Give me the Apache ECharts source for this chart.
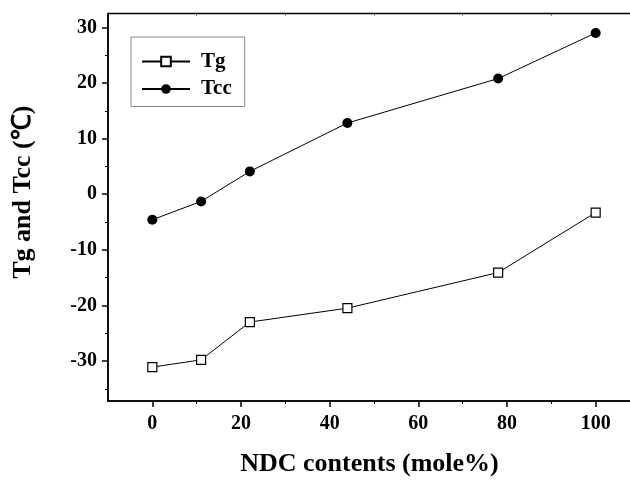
<!DOCTYPE html>
<html>
<head>
<meta charset="utf-8">
<script src="https://cdn.jsdelivr.net/npm/echarts@6/dist/echarts.min.js"></script>
<style>html,body{margin:0;padding:0;background:#fff;}#c{width:630px;height:482px;}</style>
</head>
<body>
<div id="c"></div>
<script>
const xValues = [0, 11, 22, 44, 78, 100];
const tg = [-31.1, -29.8, -23.0, -20.5, -14.1, -3.3];
const tcc = [-4.6, -1.3, 4.1, 12.8, 20.8, 29.0];
const xTicks = [0, 20, 40, 60, 80, 100];
const xMinorTicks = [10, 30, 50, 70, 90];
const yTicks = [-30, -20, -10, 0, 10, 20, 30];
const yMinorTicks = [-35, -25, -15, -5, 5, 15, 25];

const font = 'Liberation Serif, Times New Roman, serif';
const chart = echarts.init(document.getElementById('c'));
const pair = (xs, ys) => xs.map((x, i) => [x, ys[i]]);

const gridBox = { left: 108, top: 13.5, width: 532, height: 387.5 };
const xRange = { min: -10, max: 110 };
const yRange = { min: -37.2, max: 32.5 };

chart.setOption({
  animation: false,
  backgroundColor: '#fff',
  grid: Object.assign({ show: true, borderColor: '#000', borderWidth: 1.5, backgroundColor: 'transparent', outerBoundsMode: 'none', containLabel: false }, gridBox),
  legend: {
    left: 131, top: 37,
    orient: 'vertical',
    padding: [14, 13, 7, 10],
    itemGap: 6.5,
    itemWidth: 48, itemHeight: 12,
    borderColor: '#888', borderWidth: 1,
    textStyle: { fontFamily: font, fontWeight: 'bold', fontSize: 21, color: '#000', padding: [0, 0, 0, 6] },
    data: ['Tg', 'Tcc']
  },
  xAxis: [
    Object.assign({
      type: 'value', position: 'bottom',
      name: 'NDC contents (mole%)', nameLocation: 'middle', nameGap: 50,
      nameTextStyle: { fontFamily: font, fontWeight: 'bold', fontSize: 26, color: '#000', padding: [0, 9, 0, 0] },
      axisLine: { show: true, onZero: false, lineStyle: { color: '#000', width: 1.5 } },
      axisTick: { show: true, inside: false, length: 6, customValues: xTicks, lineStyle: { color: '#000', width: 1.5 } },
      axisLabel: { customValues: xTicks, margin: 13, fontFamily: font, fontWeight: 'bold', fontSize: 20, color: '#000' },
      splitLine: { show: false }
    }, xRange),
    Object.assign({
      type: 'value', position: 'bottom',
      axisLine: { show: false, onZero: false },
      axisTick: { show: true, length: 3, customValues: xMinorTicks, lineStyle: { color: '#000', width: 1 } },
      axisLabel: { show: false },
      splitLine: { show: false }
    }, xRange),
    Object.assign({
      type: 'value', position: 'top',
      axisLine: { show: false, onZero: false },
      axisTick: { show: true, inside: true, length: 2, customValues: xMinorTicks, lineStyle: { color: '#444', width: 1 } },
      axisLabel: { show: false },
      splitLine: { show: false }
    }, xRange)
  ],
  yAxis: [
    Object.assign({
      type: 'value', position: 'left',
      name: 'Tg and Tcc (\u2103)', nameLocation: 'middle', nameGap: 72, nameRotate: 90,
      nameTextStyle: { fontFamily: font, fontWeight: 'bold', fontSize: 26, color: '#000', padding: [0, 0, 0, 30] },
      axisLine: { show: true, onZero: false, lineStyle: { color: '#000', width: 1.5 } },
      axisTick: { show: true, inside: false, length: 6, customValues: yTicks, lineStyle: { color: '#000', width: 1.5 } },
      axisLabel: { customValues: yTicks, margin: 11, fontFamily: font, fontWeight: 'bold', fontSize: 20, color: '#000' },
      splitLine: { show: false }
    }, yRange),
    Object.assign({
      type: 'value', position: 'left',
      axisLine: { show: false, onZero: false },
      axisTick: { show: true, length: 3, customValues: yMinorTicks, lineStyle: { color: '#000', width: 1 } },
      axisLabel: { show: false },
      splitLine: { show: false }
    }, yRange)
  ],
  series: [
    {
      name: 'Tg', type: 'line', data: pair(xValues, tg),
      symbol: 'rect', symbolSize: 9,
      lineStyle: { color: '#000', width: 1 },
      itemStyle: { color: '#fff', borderColor: '#000', borderWidth: 1.2 }
    },
    {
      name: 'Tcc', type: 'line', data: pair(xValues, tcc),
      symbol: 'circle', symbolSize: 10,
      lineStyle: { color: '#000', width: 1 },
      itemStyle: { color: '#000', borderColor: '#000', borderWidth: 0 }
    }
  ]
});
</script>
</body>
</html>
